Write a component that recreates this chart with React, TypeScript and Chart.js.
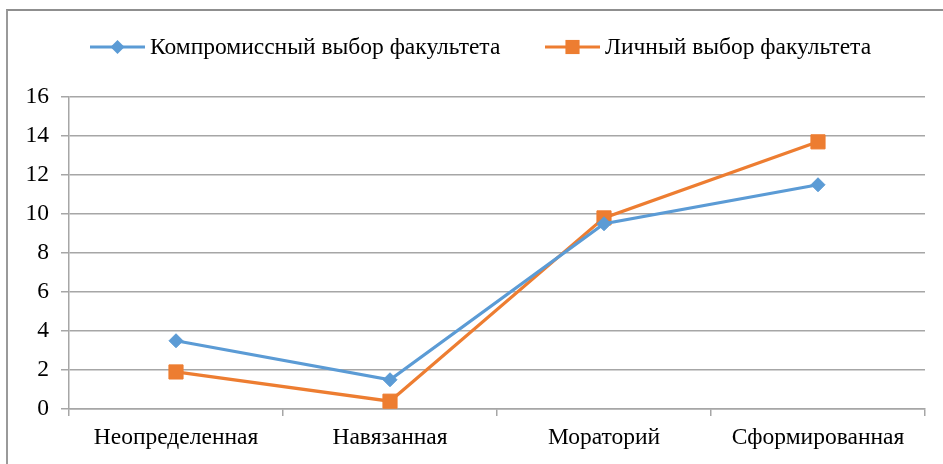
import React, { useEffect, useRef } from "react";
import { Chart, registerables } from "chart.js";

Chart.register(...registerables);

const categories = ["Неопределенная", "Навязанная", "Мораторий", "Сформированная"];
const seriesNames = ["Компромиссный выбор факультета", "Личный выбор факультета"];
const compromiseValues = [3.5, 1.5, 9.5, 11.5];
const personalValues = [1.9, 0.4, 9.8, 13.7];
const yTicks = [0, 2, 4, 6, 8, 10, 12, 14, 16];

const BLUE = "#5b9bd5";
const ORANGE = "#ed7d31";
const GRID = "#a6a6a6";
const FONT = "'Liberation Serif', 'Times New Roman', serif";
const FONT_SIZE = 23.5;

const legendPlugin = {
  id: "customLegend",
  afterDraw(chart: any) {
    const ctx = chart.ctx as CanvasRenderingContext2D;
    const y = 47;
    const items = [
      { x: 90, color: BLUE, style: "rectRot", radius: 7, label: seriesNames[0] },
      { x: 545, color: ORANGE, style: "rect", radius: 10, label: seriesNames[1] },
    ];
    ctx.save();
    for (const it of items) {
      ctx.strokeStyle = it.color;
      ctx.lineWidth = 3;
      ctx.beginPath();
      ctx.moveTo(it.x, y);
      ctx.lineTo(it.x + 55, y);
      ctx.stroke();
      ctx.fillStyle = it.color;
      const cx = it.x + 27.5;
      ctx.beginPath();
      if (it.style === "rect") {
        const s = it.radius * Math.SQRT1_2;
        ctx.rect(cx - s, y - s, 2 * s, 2 * s);
      } else {
        const r = it.radius;
        ctx.moveTo(cx - r, y);
        ctx.lineTo(cx, y - r);
        ctx.lineTo(cx + r, y);
        ctx.lineTo(cx, y + r);
        ctx.closePath();
      }
      ctx.fill();
      ctx.fillStyle = "#000";
      ctx.font = `${FONT_SIZE}px ${FONT}`;
      ctx.textBaseline = "middle";
      ctx.textAlign = "left";
      ctx.fillText(it.label, it.x + 60, y + 1);
    }
    ctx.restore();
  },
};

export default function App() {
  const ref = useRef<HTMLCanvasElement | null>(null);

  useEffect(() => {
    if (!ref.current) return;
    const chart = new Chart(ref.current, {
      type: "line",
      data: {
        labels: categories,
        datasets: [
          {
            label: seriesNames[0],
            data: compromiseValues,
            borderColor: BLUE,
            backgroundColor: BLUE,
            borderWidth: 3.2,
            pointStyle: "rectRot",
            pointRadius: 7,
            pointBorderWidth: 1,
            tension: 0,
          },
          {
            label: seriesNames[1],
            data: personalValues,
            borderColor: ORANGE,
            backgroundColor: ORANGE,
            borderWidth: 3.2,
            pointStyle: "rect",
            pointRadius: 10,
            pointBorderWidth: 1,
            tension: 0,
          },
        ],
      },
      options: {
        animation: false,
        responsive: false,
        layout: { padding: { top: 97, right: 18, bottom: 0, left: 0 } },
        plugins: {
          legend: { display: false },
          tooltip: { enabled: false },
        },
        scales: {
          x: {
            offset: true,
            grid: {
              offset: true,
              drawOnChartArea: false,
              drawTicks: true,
              tickLength: 7,
              color: GRID,
              lineWidth: 1.5,
            },
            border: { display: true, color: GRID, width: 1.5 },
            ticks: {
              color: "#000",
              font: { family: FONT, size: FONT_SIZE },
              padding: 8,
              maxRotation: 0,
              autoSkip: false,
            },
            afterFit(scale: any) {
              scale.height = 55;
            },
          },
          y: {
            min: 0,
            max: 16,
            afterBuildTicks(scale: any) {
              scale.ticks = yTicks.map((v) => ({ value: v }));
            },
            grid: {
              color: GRID,
              lineWidth: 1.5,
              drawTicks: true,
              tickLength: 8,
            },
            border: { display: true, color: GRID, width: 1.5 },
            ticks: {
              color: "#000",
              font: { family: FONT, size: FONT_SIZE },
              padding: 12,
            },
            afterFit(scale: any) {
              scale.width = 69;
            },
          },
        },
      },
      plugins: [legendPlugin],
    });
    return () => chart.destroy();
  }, []);

  return (
    <div style={{ position: "fixed", left: 0, top: 0, width: 943, height: 464, background: "#fff", overflow: "hidden" }}>
      <div
        style={{
          position: "absolute",
          left: 6,
          top: 9,
          width: 960,
          height: 480,
          borderLeft: "2px solid #9a9a9a",
          borderTop: "2px solid #8f8f8f",
        }}
      />
      <canvas ref={ref} width={943} height={464} style={{ position: "absolute", left: 0, top: 0, width: 943, height: 464 }} />
    </div>
  );
}
